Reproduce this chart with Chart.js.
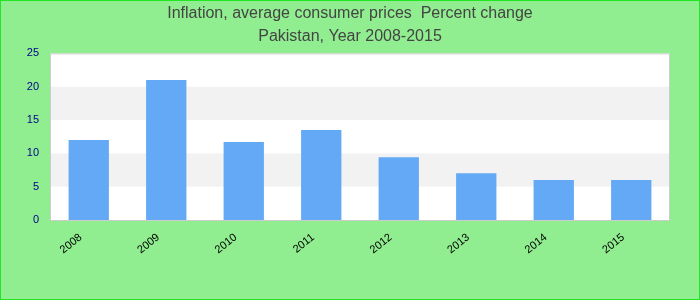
<!DOCTYPE html>
<html>
<head>
<meta charset="utf-8">
<script src="https://cdn.jsdelivr.net/npm/chart.js@4/dist/chart.umd.min.js"></script>
<style>
  body { margin: 0; }
  #wrap {
    width: 700px; height: 300px; box-sizing: border-box;
    border: 1px solid #22e622; background: #90ee90;
  }
</style>
</head>
<body>
<div id="wrap"><canvas id="inflChart"></canvas></div>
<script>
// data
const years = ['2008', '2009', '2010', '2011', '2012', '2013', '2014', '2015'];
const inflation = [12.0, 21.0, 11.7, 13.5, 9.4, 7.0, 6.0, 6.0];
const yTicks = [0, 5, 10, 15, 20, 25];
const titleLines = ['Inflation, average consumer prices  Percent change', 'Pakistan, Year 2008-2015'];

const canvas = document.getElementById('inflChart');
canvas.width = 698;
canvas.height = 298;

// white / light grey bands behind the bars plus the grey frame
const bandPlugin = {
    id: 'bands',
    beforeDraw(chart) {
        const ctx = chart.ctx;
        const area = chart.chartArea;
        const y = chart.scales.y;
        ctx.save();
        ctx.fillStyle = '#ffffff';
        ctx.fillRect(area.left, area.top, area.right - area.left, area.bottom - area.top);
        for (let i = 0; i < yTicks.length - 1; i++) {
            if (i % 2 == 1) {
                const top = y.getPixelForValue(yTicks[i + 1]);
                const bot = y.getPixelForValue(yTicks[i]);
                ctx.fillStyle = '#f2f2f2';
                ctx.fillRect(area.left, top, area.right - area.left, bot - top);
            }
        }
        ctx.restore();
    },
    afterDraw(chart) {
        const ctx = chart.ctx;
        const area = chart.chartArea;
        ctx.save();
        ctx.strokeStyle = '#cccccc';
        ctx.lineWidth = 1;
        ctx.strokeRect(area.left + 0.5, area.top + 0.5, area.right - area.left - 1, area.bottom - area.top);
        ctx.restore();
    }
};

const chart = new Chart(canvas, {
    type: 'bar',
    data: {
        labels: years,
        datasets: [{
            label: 'Inflation',
            data: inflation,
            backgroundColor: '#63a9f5',
            borderWidth: 0,
            barPercentage: 0.52,
            categoryPercentage: 1.0
        }]
    },
    options: {
        responsive: false,
        animation: false,
        scales: {
            x: {
                grid: { display: false },
                border: { display: false },
                ticks: {
                    color: '#000000',
                    font: { family: 'Liberation Sans', size: 11 },
                    minRotation: 38,
                    maxRotation: 38,
                    labelOffset: -8
                },
                afterFit: (scale) => { scale.height = 79; }
            },
            y: {
                min: 0,
                max: 25,
                grid: { display: false },
                border: { display: false },
                ticks: {
                    stepSize: 5,
                    color: '#00008b',
                    padding: 3,
                    font: { family: 'Liberation Sans', size: 11 }
                },
                afterFit: (scale) => { scale.width = 49; }
            },
            // empty right axis, only keeps the gap on the right side
            yRight: {
                position: 'right',
                grid: { display: false },
                border: { display: false },
                ticks: { display: false },
                afterFit: (scale) => { scale.width = 29; }
            }
        },
        plugins: {
            legend: { display: false },
            tooltip: { enabled: false },
            title: {
                display: true,
                text: titleLines,
                color: '#444444',
                font: { family: 'Liberation Sans', size: 16, weight: 'normal', lineHeight: 1.45 },
                padding: { top: 1, bottom: 5 }
            }
        }
    },
    plugins: [bandPlugin]
});
</script>
</body>
</html>
